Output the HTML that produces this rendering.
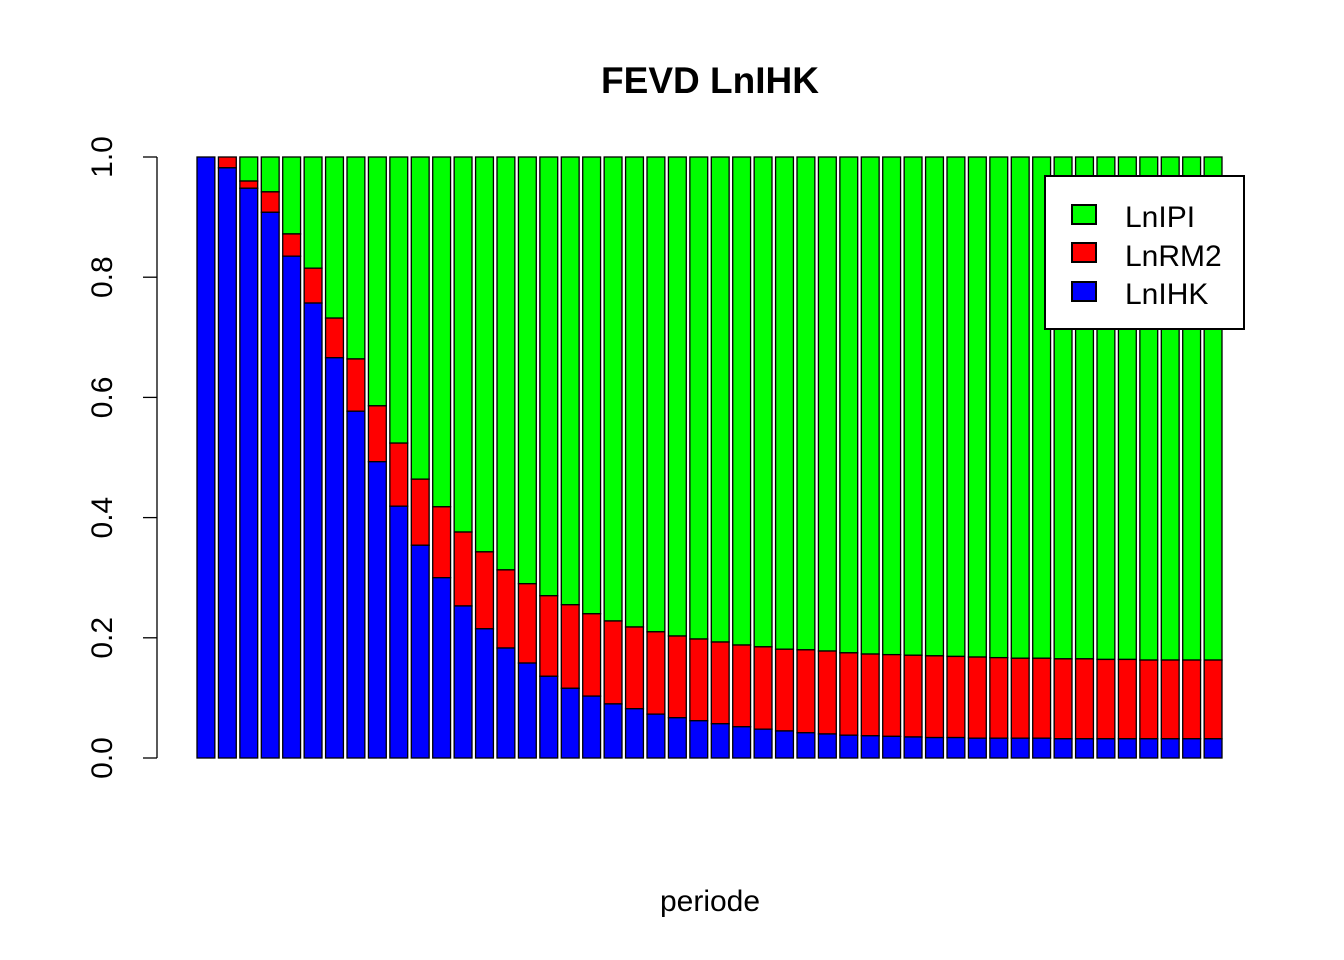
<!DOCTYPE html>
<html><head><meta charset="utf-8"><style>body{margin:0;background:#fff}svg{display:block;font-family:"Liberation Sans",Arial,sans-serif}</style></head>
<body>
<svg id="chart" width="1344" height="960" viewBox="0 0 1344 960">
<text x="710" y="93" text-anchor="middle" font-size="37" font-weight="bold">FEVD LnIHK</text>
<text x="710" y="911" text-anchor="middle" font-size="30">periode</text>
<g id="bars"></g>
<g id="yaxis"></g>
<g>
<rect x="1045" y="176" width="199" height="153" fill="#fff" stroke="#000" stroke-width="2"/>
<rect x="1072" y="205" width="24" height="19" fill="#00ff00" stroke="#000" stroke-width="2"/>
<rect x="1072" y="243" width="24" height="19" fill="#ff0000" stroke="#000" stroke-width="2"/>
<rect x="1072" y="282" width="24" height="19" fill="#0000ff" stroke="#000" stroke-width="2"/>
<text x="1125" y="227" font-size="30">LnIPI</text>
<text x="1125" y="266" font-size="30">LnRM2</text>
<text x="1125" y="304" font-size="30">LnIHK</text>
</g>
</svg>
<script>
const lnihk=[1.0,0.982,0.948,0.908,0.835,0.757,0.666,0.577,0.493,0.419,0.354,0.300,0.253,0.215,0.183,0.158,0.136,0.116,0.103,0.090,0.082,0.073,0.067,0.062,0.057,0.052,0.048,0.045,0.042,0.040,0.038,0.037,0.036,0.035,0.034,0.034,0.033,0.033,0.033,0.033,0.032,0.032,0.032,0.032,0.032,0.032,0.032,0.032];
const lnrm2=[0.0,0.018,0.012,0.034,0.037,0.058,0.066,0.087,0.093,0.105,0.110,0.118,0.123,0.128,0.130,0.132,0.134,0.139,0.137,0.138,0.136,0.137,0.136,0.136,0.136,0.136,0.137,0.136,0.138,0.138,0.137,0.136,0.136,0.136,0.136,0.135,0.135,0.134,0.133,0.133,0.133,0.133,0.132,0.132,0.131,0.131,0.131,0.131];
const yTicks=[0,0.2,0.4,0.6,0.8,1.0];
const yTickLabels=["0.0","0.2","0.4","0.6","0.8","1.0"];
const NS="http://www.w3.org/2000/svg";
const y=v=>758-v*601;
const n=lnihk.length, pitch=1025/(n-1+1/1.2), bw=pitch/1.2;
const x=i=>197+i*pitch;
const g=document.getElementById('bars');
function rect(x0,y0,w,h,fill,name){const r=document.createElementNS(NS,'rect');
r.setAttribute('x',x0);r.setAttribute('y',y0);r.setAttribute('width',w);r.setAttribute('height',Math.max(0,h));
r.setAttribute('fill',fill);r.setAttribute('stroke','#000');r.setAttribute('stroke-width','1.3');


g.appendChild(r);}
for(let i=0;i<n;i++){
 const a=lnihk[i], b=a+lnrm2[i];
 rect(x(i),y(1),bw,y(b)-y(1),'#00ff00','bar-lnipi-'+(i+1));
 rect(x(i),y(b),bw,y(a)-y(b),'#ff0000','bar-lnrm2-'+(i+1));
 rect(x(i),y(a),bw,y(0)-y(a),'#0000ff','bar-lnihk-'+(i+1));
}
const ya=document.getElementById('yaxis');
const l=document.createElementNS(NS,'line');
l.setAttribute('x1',157);l.setAttribute('x2',157);l.setAttribute('y1',y(0));l.setAttribute('y2',y(1));l.setAttribute('stroke','#000');l.setAttribute('stroke-width','1.3');


ya.appendChild(l);
yTicks.forEach((t,k)=>{
 const tk=document.createElementNS(NS,'line');
 tk.setAttribute('x1',143);tk.setAttribute('x2',157);tk.setAttribute('y1',y(t));tk.setAttribute('y2',y(t));tk.setAttribute('stroke','#000');tk.setAttribute('stroke-width','1.3');
 
 
 ya.appendChild(tk);
 const tx=document.createElementNS(NS,'text');
 tx.setAttribute('transform','translate(112,'+y(t)+') rotate(-90)');
 tx.setAttribute('text-anchor','middle');tx.setAttribute('font-size','30');
 tx.textContent=yTickLabels[k];
 
 
 ya.appendChild(tx);
});
</script>
</body></html>
